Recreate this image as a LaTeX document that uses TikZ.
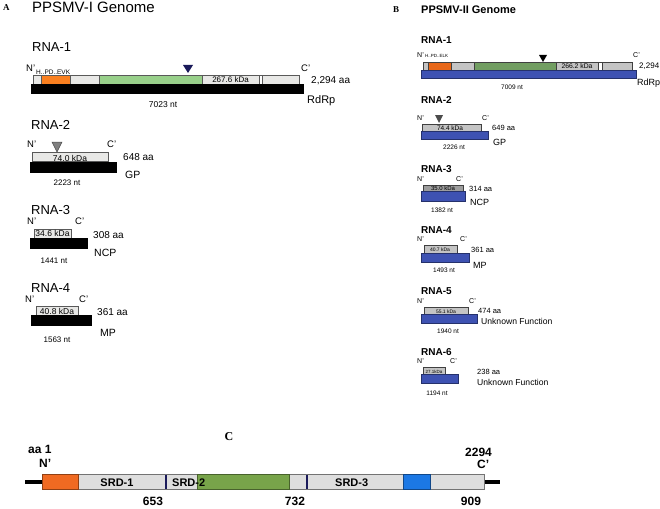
\documentclass[tikz,border=0pt]{standalone}
\usepackage{fontspec}
\setmainfont{Liberation Sans}
\newfontfamily\myserif{Liberation Serif}
\newcommand\myfs[1]{\fontsize{#1pt}{#1pt}\selectfont}
\definecolor{orA}{HTML}{FA8020}
\definecolor{grA}{HTML}{98D08A}
\definecolor{ltA}{HTML}{E8E8E6}
\definecolor{orB}{HTML}{E8681A}
\definecolor{grB}{HTML}{729E62}
\definecolor{gyB}{HTML}{C4C4C4}
\definecolor{blB}{HTML}{3E52B2}
\definecolor{orC}{HTML}{F06A22}
\definecolor{grC}{HTML}{78A44A}
\definecolor{blC}{HTML}{1C78E4}
\definecolor{ltC}{HTML}{DEDEDE}
\definecolor{navy}{HTML}{1A1A5A}
\begin{document}
\begin{tikzpicture}[x=1pt,y=-1pt,
  t/.style={inner sep=0,anchor=base west},
  tc/.style={inner sep=0,anchor=base},
  fs/.style={font=\myfs{#1}},
  fb/.style={font=\myfs{#1}\bfseries},
  seg/.style={draw=black!65,line width=0.5pt},
  segB/.style={draw=black!75,line width=0.5pt},
  blk/.style={fill=black},
  blu/.style={fill=blB,draw=blB!60!black,line width=0.5pt}]
\useasboundingbox (0,0) rectangle (660,508);
% ---------------- Panel A ----------------
\node[t,font=\myfs{9}\myserif\bfseries] (lA) at (3,11) {A};
\node[t,fs=15] (titA) at (32,13) {PPSMV-I Genome};
% RNA-1
\node[t,fs=13] (a1) at (32,52) {RNA-1};
\node[t,fs=9.5] (a1n) at (26,72) {N’};
\node[t,fs=6.5] (a1m) at (36,74.5) {H..PD..EVK};
\node[t,fs=9.5] (a1c) at (301,72) {C’};
\draw[seg,fill=ltA] (33,75.5) rectangle (41,84);
\draw[seg,fill=orA] (41,75.5) rectangle (70,84);
\draw[seg,fill=ltA] (70,75.5) rectangle (99,84);
\draw[seg,fill=grA] (99,75.5) rectangle (202,84);
\draw[seg,fill=ltA] (202,75.5) rectangle (259,84);
\draw[seg,fill=white] (259,75.5) rectangle (262.5,84);
\draw[seg,fill=ltA] (262.5,75.5) rectangle (299,84);
\fill[blk] (31,84) rectangle (304,94);
\fill[navy] (183,65) -- (193,65) -- (188,73) -- cycle;
\node[tc,fs=8] (a1k) at (230.5,83) {267.6 kDa};
\node[t,fs=10] (a1aa) at (311,84) {2,294 aa};
\node[t,fs=11] (a1f) at (307,103.5) {RdRp};
\node[tc,fs=8.5] (a1nt) at (163,107) {7023 nt};
% RNA-2
\node[t,fs=13] (a2) at (31,129) {RNA-2};
\node[t,fs=9.5] (a2n) at (27,147) {N’};
\node[t,fs=9.5] (a2c) at (107,147) {C’};
\draw[seg,fill=ltA] (32,152) rectangle (108,161);
\node[tc,fs=8.5] (a2k) at (70,161) {74.0 kDa};
\fill[blk] (30,162) rectangle (117,173);
\draw[fill=black!50,draw=black!70,line width=0.5pt] (52,142) -- (62,142) -- (57,152) -- cycle;
\node[t,fs=10] (a2aa) at (123,160.5) {648 aa};
\node[t,fs=10.5] (a2f) at (125,178) {GP};
\node[tc,fs=8] (a2nt) at (67,185.5) {2223 nt};
% RNA-3
\node[t,fs=13] (a3) at (31,214) {RNA-3};
\node[t,fs=9.5] (a3n) at (27,224) {N’};
\node[t,fs=9.5] (a3c) at (75,224) {C’};
\draw[seg,fill=ltA] (34,229) rectangle (71,238);
\node[tc,fs=8.5] (a3k) at (52.5,236.5) {34.6 kDa};
\fill[blk] (30,238) rectangle (88,249);
\node[t,fs=10] (a3aa) at (93,238) {308 aa};
\node[t,fs=10.5] (a3f) at (94,256) {NCP};
\node[tc,fs=8] (a3nt) at (54,263) {1441 nt};
% RNA-4
\node[t,fs=13] (a4) at (31,292) {RNA-4};
\node[t,fs=9.5] (a4n) at (25,302) {N’};
\node[t,fs=9.5] (a4c) at (79,302) {C’};
\draw[seg,fill=ltA] (36,306) rectangle (78,315);
\node[tc,fs=8.5] (a4k) at (57,314.5) {40.8 kDa};
\fill[blk] (31,315) rectangle (92,326);
\node[t,fs=10] (a4aa) at (97,315.5) {361 aa};
\node[t,fs=10.5] (a4f) at (100,336) {MP};
\node[tc,fs=8] (a4nt) at (57,342) {1563 nt};
% ---------------- Panel B ----------------
\node[t,font=\myfs{9}\myserif\bfseries] (lB) at (393,13) {B};
\node[t,fb=11] (titB) at (421,14) {PPSMV-II Genome};
% RNA-1
\node[t,fb=10] (b1) at (421,44) {RNA-1};
\node[t,fs=7] (b1n) at (417,58) {N’};
\node[t,fs=4.5] (b1m) at (425,58) {H..PD..ELK};
\node[t,fs=7] (b1c) at (633,58) {C’};
\draw[segB,fill=gyB] (423,62) rectangle (428,70);
\draw[segB,fill=orB] (428,62) rectangle (451,70);
\draw[segB,fill=gyB] (451,62) rectangle (474,70);
\draw[segB,fill=grB] (474,62) rectangle (556,70);
\draw[segB,fill=gyB] (556,62) rectangle (598,70);
\draw[segB,fill=white] (598,62) rectangle (602,70);
\draw[segB,fill=gyB] (602,62) rectangle (632,70);
\draw[blu] (421,70) rectangle (636,78);
\fill[black] (539,55) -- (547,55) -- (543,62) -- cycle;
\node[tc,fs=6.8] (b1k) at (577,69) {266.2 kDa};
\node[t,fs=8] (b1aa) at (639,69) {2,294};
\node[t,fs=9] (b1f) at (637,86) {RdRp};
\node[tc,fs=6.5] (b1nt) at (512,89) {7009 nt};
% RNA-2
\node[t,fb=10] (b2) at (421,103) {RNA-2};
\node[t,fs=7] (b2n) at (417,120) {N’};
\node[t,fs=7] (b2c) at (482,120) {C’};
\draw[segB,fill=gyB] (422,124) rectangle (481,131);
\node[tc,fs=6.5] (b2k) at (450,130.5) {74.4 kDa};
\draw[blu] (421,131) rectangle (488,139);
\fill[black!70] (435,115) -- (443,115) -- (439,123) -- cycle;
\node[t,fs=7.5] (b2aa) at (492,130) {649 aa};
\node[t,fs=9] (b2f) at (493,145.5) {GP};
\node[tc,fs=6.5] (b2nt) at (454,149.5) {2226 nt};
% RNA-3
\node[t,fb=10] (b3) at (421,172) {RNA-3};
\node[t,fs=7] (b3n) at (417,181) {N’};
\node[t,fs=7] (b3c) at (456,181) {C’};
\draw[segB,fill=gyB!80!black] (423,185) rectangle (463,191);
\node[tc,fs=6] (b3k) at (443,190.3) {35.0 kDa};
\draw[blu] (421,191) rectangle (465,201);
\node[t,fs=7.5] (b3aa) at (469,191) {314 aa};
\node[t,fs=9] (b3f) at (470,205) {NCP};
\node[tc,fs=6.5] (b3nt) at (442,212) {1382 nt};
% RNA-4
\node[t,fb=10] (b4) at (421,233) {RNA-4};
\node[t,fs=7] (b4n) at (417,241) {N’};
\node[t,fs=7] (b4c) at (460,241) {C’};
\draw[segB,fill=gyB] (424,245) rectangle (457,253);
\node[tc,fs=5] (b4k) at (440,251.5) {40.7 kDa};
\draw[blu] (421,253) rectangle (469,262);
\node[t,fs=7.5] (b4aa) at (471,252.5) {361 aa};
\node[t,fs=9] (b4f) at (473,268) {MP};
\node[tc,fs=6.5] (b4nt) at (444,272) {1493 nt};
% RNA-5
\node[t,fb=10] (b5) at (421,294) {RNA-5};
\node[t,fs=7] (b5n) at (417,303) {N’};
\node[t,fs=7] (b5c) at (469,303) {C’};
\draw[segB,fill=gyB] (424,307) rectangle (468,314);
\node[tc,fs=5] (b5k) at (446,313) {55.1 kDa};
\draw[blu] (421,314) rectangle (477,323);
\node[t,fs=7.5] (b5aa) at (478,313) {474 aa};
\node[t,fs=8.6] (b5f) at (481,324.5) {Unknown Function};
\node[tc,fs=6.5] (b5nt) at (448,333) {1940 nt};
% RNA-6
\node[t,fb=10] (b6) at (421,355) {RNA-6};
\node[t,fs=7] (b6n) at (417,363.5) {N’};
\node[t,fs=7] (b6c) at (450,363.5) {C’};
\draw[segB,fill=gyB] (423,367) rectangle (445,374);
\node[tc,fs=4.5] (b6k) at (434,373) {27.1kDa};
\draw[blu] (421,374) rectangle (458,383);
\node[t,fs=7.5] (b6aa) at (477,374) {238 aa};
\node[t,fs=8.6] (b6f) at (477,385) {Unknown Function};
\node[tc,fs=6.5] (b6nt) at (437,395) {1194 nt};
% ---------------- Panel C ----------------
\node[tc,font=\myfs{12}\myserif\bfseries] (lC) at (229,440) {C};
\node[t,fb=12] (c1) at (28,453) {aa 1};
\node[t,fb=12] (cn) at (39,467.5) {N’};
\node[t,fb=12] (c2294) at (465,456) {2294};
\node[t,fb=12] (cc) at (477,468) {C’};
\draw[line width=4pt] (25,482) -- (42,482);
\draw[line width=4pt] (484,482) -- (500,482);
\draw[draw=black!55,fill=ltC,line width=0.6pt] (42,474) rectangle (484,489);
\draw[draw=orC!60!black,fill=orC,line width=0.5pt] (42,474) rectangle (78,489);
\draw[draw=grC!60!black,fill=grC,line width=0.5pt] (197,474) rectangle (289,489);
\draw[draw=blC!60!black,fill=blC,line width=0.5pt] (403,474) rectangle (430,489);
\draw[navy,line width=2pt] (166,474.5) -- (166,488.5);
\draw[navy,line width=2pt] (307,474.5) -- (307,488.5);
\node[tc,fb=11] (s1) at (117,486) {SRD-1};
\node[t,fb=11] (s2) at (172,486) {SRD-2};
\node[t,fb=11] (s3) at (335,486) {SRD-3};
\node[tc,fb=12] (n653) at (153,505) {653};
\node[tc,fb=12] (n732) at (295,505) {732};
\node[tc,fb=12] (n909) at (471,505) {909};
\end{tikzpicture}
\end{document}
